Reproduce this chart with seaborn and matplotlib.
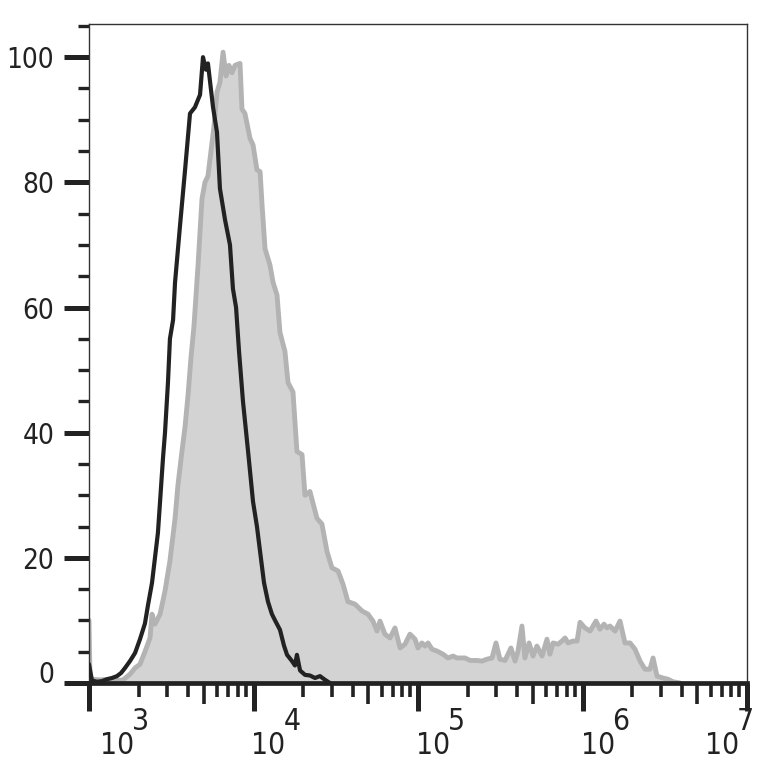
"""유세포 분석 히스토그램 재현 — seaborn + matplotlib."""

import numpy as np
import matplotlib
matplotlib.use("Agg")
import matplotlib.pyplot as plt
from matplotlib.transforms import ScaledTranslation
from matplotlib.ticker import NullLocator
import seaborn as sns

# 회색(염색 시료): 형광 강도 log10 값과 %Max
gray_log = [3.000, 3.006, 3.018, 3.067, 3.128, 3.176, 3.207, 3.249, 3.280, 3.310,
            3.340, 3.371, 3.383, 3.401, 3.432, 3.462, 3.492, 3.523, 3.541, 3.565,
            3.584, 3.602, 3.620, 3.638, 3.663, 3.687, 3.705, 3.723, 3.748, 3.760,
            3.778, 3.796, 3.815, 3.833, 3.851, 3.869, 3.888, 3.918, 3.930, 3.948,
            3.979, 3.997, 4.021, 4.040, 4.052, 4.070, 4.100, 4.119, 4.143, 4.161,
            4.191, 4.210, 4.240, 4.264, 4.295, 4.313, 4.343, 4.386, 4.416, 4.447,
            4.477, 4.514, 4.544, 4.574, 4.617, 4.660, 4.696, 4.726, 4.751, 4.769,
            4.799, 4.830, 4.860, 4.891, 4.921, 4.951, 4.982, 5.000, 5.024, 5.043,
            5.061, 5.085, 5.116, 5.152, 5.182, 5.213, 5.237, 5.286, 5.316, 5.359,
            5.389, 5.419, 5.450, 5.474, 5.498, 5.529, 5.565, 5.590, 5.608, 5.632,
            5.650, 5.675, 5.699, 5.723, 5.754, 5.784, 5.802, 5.821, 5.851, 5.875,
            5.894, 5.912, 5.942, 5.967, 5.985, 6.015, 6.046, 6.082, 6.106, 6.131,
            6.149, 6.167, 6.198, 6.228, 6.258, 6.289, 6.319, 6.350, 6.380, 6.410,
            6.429, 6.453, 6.489, 6.520, 6.550, 6.593]
gray_pct = [10.0, 1.0, 0.6, 0.5, 0.6, 0.4, 0.5, 1.4, 2.4, 3.0,
            5.0, 7.2, 11.0, 9.4, 11.0, 14.7, 19.5, 26.3, 31.7, 37.0,
            41.0, 46.0, 52.0, 57.0, 66.8, 77.4, 80.0, 81.0, 86.4, 89.0,
            94.4, 96.0, 100.8, 97.0, 98.7, 97.5, 98.7, 99.0, 91.7, 91.0,
            87.0, 86.0, 82.0, 81.7, 76.4, 69.4, 66.8, 64.0, 62.0, 56.0,
            53.0, 48.0, 46.5, 37.0, 36.5, 30.0, 30.6, 26.3, 25.4, 21.0,
            18.4, 17.9, 15.8, 13.0, 12.6, 11.5, 11.0, 9.9, 8.3, 9.9,
            7.8, 7.2, 8.8, 5.6, 6.2, 7.8, 7.0, 5.6, 6.4, 5.9,
            6.4, 5.4, 5.1, 4.6, 4.0, 4.3, 4.0, 4.0, 3.6, 3.6,
            3.5, 3.8, 4.0, 6.4, 3.8, 3.6, 5.6, 3.5, 5.1, 9.1,
            4.0, 6.4, 4.3, 5.9, 4.3, 7.0, 4.6, 6.4, 6.2, 6.7,
            7.2, 6.4, 6.7, 6.7, 9.7, 8.8, 8.3, 9.9, 8.6, 9.4,
            8.8, 9.1, 8.3, 9.9, 6.4, 6.4, 5.4, 3.5, 2.2, 2.2,
            4.0, 1.1, 0.8, 0.6, 0.2, 0.0]

# 검정(대조군)
black_log = [3.000, 3.018, 3.049, 3.079, 3.109, 3.140, 3.170, 3.195, 3.219, 3.249,
             3.280, 3.310, 3.340, 3.359, 3.383, 3.401, 3.419, 3.432, 3.450, 3.462,
             3.480, 3.492, 3.511, 3.523, 3.553, 3.584, 3.614, 3.644, 3.675, 3.693,
             3.711, 3.723, 3.754, 3.778, 3.796, 3.827, 3.857, 3.875, 3.894, 3.912,
             3.936, 3.967, 3.997, 4.021, 4.040, 4.064, 4.088, 4.112, 4.131, 4.161,
             4.185, 4.204, 4.234, 4.252, 4.264, 4.283, 4.313, 4.343, 4.374, 4.404,
             4.435, 4.465]
black_pct = [3.0, 0.4, 0.2, 0.3, 0.6, 0.8, 1.1, 1.6, 2.4, 3.5,
             4.8, 7.0, 9.5, 12.5, 16.0, 20.0, 24.0, 29.0, 36.0, 40.0,
             48.0, 55.0, 58.0, 64.0, 73.0, 82.0, 91.0, 92.0, 94.0, 100.0,
             98.0, 99.0, 92.0, 88.0, 79.0, 74.0, 70.0, 63.0, 60.0, 53.0,
             45.0, 37.0, 29.0, 25.0, 21.0, 16.0, 13.0, 11.0, 10.0, 8.5,
             6.0, 4.5, 3.5, 2.8, 4.5, 2.0, 1.3, 1.2, 0.8, 1.1,
             0.5, 0.0]

decades = [3, 4, 5, 6, 7]
y_major = [0, 20, 40, 60, 80, 100]

# 라벨 "10" 의 가로 위치 보정(px) — 레이아웃 값
label_dx = [11, -2, -2, -2, -42]

INK = "#222222"

sns.set_style("ticks")
plt.rcParams["font.family"] = ["DejaVu Sans"]
plt.rcParams["font.stretch"] = "condensed"

fig = plt.figure(figsize=(7.79, 7.65), dpi=100)
ax = fig.add_axes([89 / 779, 1 - 683 / 765, (747 - 89) / 779, (683 - 24) / 765])
ax.set_xscale("log")

gx = 10 ** np.array(gray_log)
bx = 10 ** np.array(black_log)

ax.fill_between(gx, gray_pct, 0, color="#d3d3d3", lw=0, zorder=1)
sns.lineplot(x=gx, y=gray_pct, ax=ax, color="#b3b3b3", lw=3.5,
             estimator=None, sort=False, zorder=2)
sns.lineplot(x=bx, y=black_pct, ax=ax, color=INK, lw=3.0,
             estimator=None, sort=False, zorder=3)

ax.set_xlim(1e3, 1e7)
ax.set_ylim(0, 105.3)
ax.set_xlabel("")
ax.set_ylabel("")

# 축선
for side in ["left", "top", "right"]:
    ax.spines[side].set_linewidth(1.0)
    ax.spines[side].set_color("#333333")
ax.spines["bottom"].set_linewidth(3.4)
ax.spines["bottom"].set_color(INK)

# y 눈금
ax.set_yticks(y_major)
ax.set_yticks([v for v in range(5, 106, 5) if v % 20], minor=True)
ax.tick_params(axis="y", which="major", length=18, width=3.6, pad=7,
               labelsize=20, colors=INK)
ax.tick_params(axis="y", which="minor", length=8, width=2.4, colors=INK)
zero_lbl = ax.yaxis.get_major_ticks()[0].label1
zero_lbl.set_transform(zero_lbl.get_transform()
                       + ScaledTranslation(0, 11 / 100, fig.dpi_scale_trans))

# x 눈금: 10^k 주눈금, 2..9 보조 눈금, 5 는 중간 길이
ax.set_xticks([10.0 ** k for k in decades])
ax.set_xticks([m * 10.0 ** k for k in decades[:-1] for m in (2, 3, 4, 6, 7, 8, 9)],
              minor=True)
ax.tick_params(axis="x", which="major", length=20, width=3.6, colors=INK,
               labelbottom=False)
ax.tick_params(axis="x", which="minor", length=10, width=2.6, colors=INK,
               labelbottom=False)

sec = ax.secondary_xaxis("bottom")
sec.set_xticks([5 * 10.0 ** k for k in decades[:-1]])
sec.xaxis.set_minor_locator(NullLocator())
sec.tick_params(axis="x", length=15, width=2.6, colors=INK, labelbottom=False)
sec.spines["bottom"].set_visible(False)

# x 라벨: "10" 과 같은 크기의 지수
for k, dx in zip(decades, label_dx):
    ax.annotate("10", xy=(10.0 ** k, 0), xycoords=("data", "axes fraction"),
                xytext=(dx, -71), textcoords="offset pixels", ha="left",
                va="baseline", fontsize=21.5, color=INK, annotation_clip=False)
    ax.annotate(str(k), xy=(10.0 ** k, 0), xycoords=("data", "axes fraction"),
                xytext=(dx + 32, -47), textcoords="offset pixels", ha="left",
                va="baseline", fontsize=21.5, color=INK, annotation_clip=False)

fig.savefig("out.png", dpi=100)
plt.close(fig)
